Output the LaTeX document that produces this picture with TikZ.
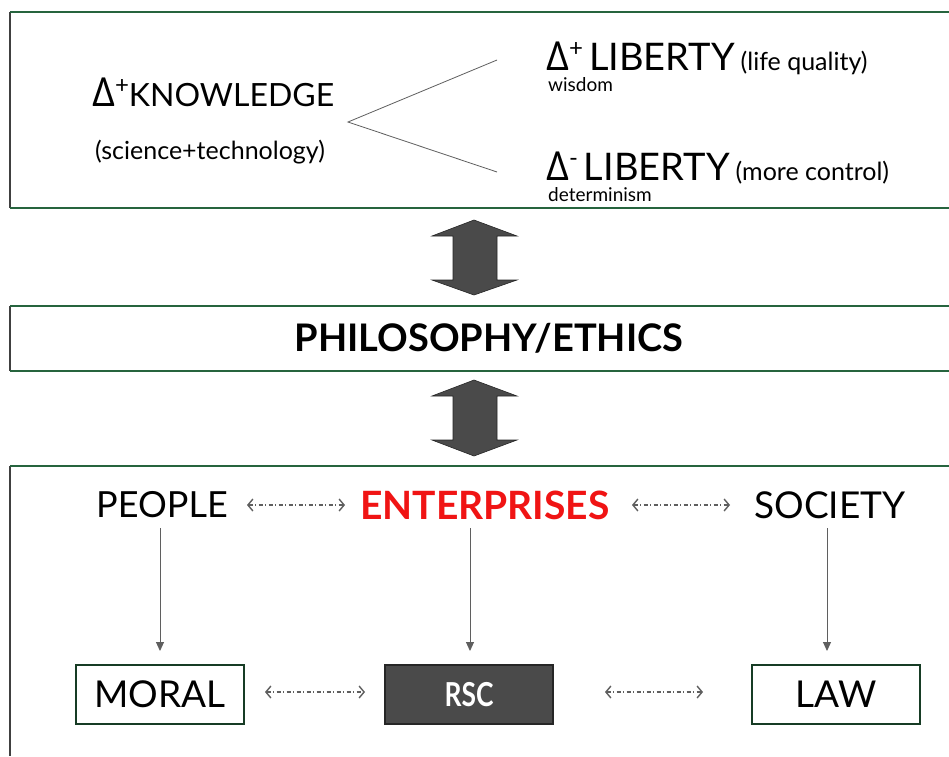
\documentclass[tikz,border=0pt]{standalone}
\usepackage{fontspec}
\setmainfont{Lato}
\newfontfamily\dfont{Open Sans}
\usetikzlibrary{arrows.meta}
\definecolor{bgreen}{RGB}{38,100,62}
\definecolor{dgray}{RGB}{74,74,74}
\definecolor{agray}{RGB}{95,95,95}
\definecolor{ered}{RGB}{240,20,20}
\newcommand{\fs}[1]{\fontsize{#1}{#1}\selectfont}
\begin{document}
\begin{tikzpicture}[x=1pt,y=-1pt,
  frameg/.style={bgreen,line width=2pt},
  framel/.style={black!75,line width=1.3pt},
  bigarrow/.style={fill=dgray,draw=black!85,line width=0.6pt},
  dda/.style={agray,line width=1.1pt,dash pattern=on 4pt off 2.5pt on 1pt off 2.5pt,{Straight Barb[length=5pt,width=12pt,line width=1.4pt]}-{Straight Barb[length=5pt,width=12pt,line width=1.4pt]}},
  vda/.style={agray,line width=1pt,-{Triangle[length=9pt,width=8pt]}},
  txt/.style={inner sep=0pt},
  wbox/.style={draw=bgreen!60!black,line width=1.3pt,fill=white,minimum width=168pt,minimum height=59pt,inner sep=0pt}
]
\useasboundingbox (0,0) rectangle (949,756);
\fill[white] (0,0) rectangle (949,756);
% frames
\draw[framel] (10,12) -- (10,208);
\draw[frameg] (10,12) -- (949,12);
\draw[frameg] (10,208) -- (949,208);
\draw[framel] (10,306) -- (10,371);
\draw[frameg] (10,306) -- (949,306);
\draw[frameg] (10,371) -- (949,371);
\draw[framel] (10,466) -- (10,756);
\draw[frameg] (10,466) -- (949,466);

% top panel
\node[txt,anchor=base west] (know) at (92,106) {{\dfont\fs{40}Δ}\raisebox{13pt}{\fs{24}+}\fs{32}KNOWLEDGE};
\node[txt] (sci) at (210,152) {\fs{25}(science+technology)};
\coordinate (fork) at (348,122);
\coordinate (up) at (497,60);
\coordinate (dn) at (497,172);
\draw[agray,line width=0.8pt] (up) -- (fork) -- (dn);
\node[txt,anchor=base west] (lib1) at (546,70) {{\dfont\fs{40}Δ}\raisebox{14pt}{\fs{24}+}\hspace{6pt}\fs{38}LIBERTY\hspace{6pt}\fs{25}(life quality)};
\node[txt,anchor=base west] (wis) at (548,91) {\fs{19}wisdom};
\node[txt,anchor=base west] (lib2) at (546,180) {{\dfont\fs{40}Δ}\raisebox{14pt}{\fs{24}-}\hspace{6pt}\fs{38}LIBERTY\hspace{6pt}\fs{25}(more control)};
\node[txt,anchor=base west] (det) at (548,201) {\fs{19}determinism};

% big double arrows
\fill[bigarrow] (474,220) -- (517,236) -- (497,236) -- (497,280) -- (517,280) -- (474,295) -- (432,280) -- (453,280) -- (453,236) -- (432,236) -- cycle;
\fill[bigarrow] (474,380) -- (517,396) -- (497,396) -- (497,440) -- (517,440) -- (474,456) -- (432,440) -- (453,440) -- (453,396) -- (432,396) -- cycle;

% middle
\node[txt] (phil) at (489,338) {\fs{38}\bfseries PHILOSOPHY/ETHICS};

% bottom panel
\node[txt] (people) at (162,505) {\fs{36}PEOPLE};
\node[txt] (ent) at (485,505) {\fs{39}\bfseries\color{ered}ENTERPRISES};
\node[txt] (soc) at (830,505) {\fs{37}SOCIETY};
\node[wbox] (moral) at (160,694.5) {\fs{37}MORAL};
\node[wbox,fill=dgray,draw=black!85] (rsc) at (469,694.5) {\fs{33}\bfseries\color{white}\scalebox{0.8}[1]{RSC}};
\node[wbox] (law) at (836,694.5) {\fs{37}LAW};

\coordinate (a1) at (247,505); \coordinate (a2) at (345,505);
\coordinate (b1) at (632,505); \coordinate (b2) at (730,505);
\coordinate (c1) at (265,692); \coordinate (c2) at (365,692);
\coordinate (d1) at (605,692); \coordinate (d2) at (703,692);
\draw[dda] (a1) -- (a2);
\draw[dda] (b1) -- (b2);
\draw[dda] (c1) -- (c2);
\draw[dda] (d1) -- (d2);

\coordinate (p1) at (160,528); \coordinate (p2) at (160,651);
\coordinate (e1) at (470,528); \coordinate (e2) at (470,651);
\coordinate (s1) at (827,528); \coordinate (s2) at (827,651);
\draw[vda] (p1) -- (p2);
\draw[vda] (e1) -- (e2);
\draw[vda] (s1) -- (s2);
\end{tikzpicture}
\end{document}
